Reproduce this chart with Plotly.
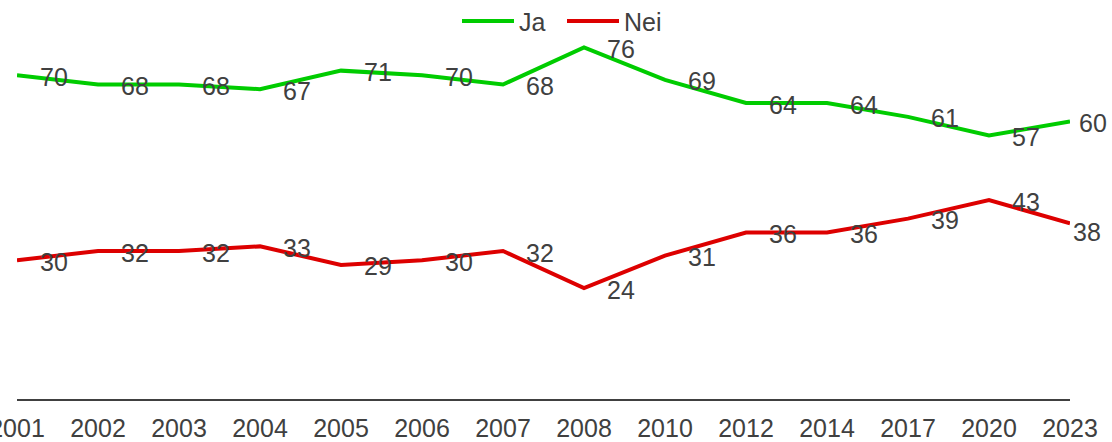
import plotly.graph_objects as go

years = ["2001", "2002", "2003", "2004", "2005", "2006", "2007", "2008",
         "2010", "2012", "2014", "2017", "2020", "2023"]
ja = [70, 68, 68, 67, 71, 70, 68, 76, 69, 64, 64, 61, 57, 60]
nei = [30, 32, 32, 33, 29, 30, 32, 24, 31, 36, 36, 39, 43, 38]
series_names = ["Ja", "Nei"]

GREEN = "#00cc00"
RED = "#dd0000"
TXT = "#404040"
FONT = "Liberation Sans, Arial, sans-serif"
FS = 25

W, H = 1112, 442
ML, MR, MT, MB = 17, 42, 29, 43
PW, PH = W - ML - MR, H - MT - MB


def px_x(px):
    return (px - ML) / PW


def px_y(py):
    return (H - MB - py) / PH


pos = list(range(len(years)))

fig = go.Figure()
fig.add_trace(go.Scatter(x=pos, y=ja, mode="lines", name=series_names[0],
                         line=dict(color=GREEN, width=4), showlegend=False))
fig.add_trace(go.Scatter(x=pos, y=nei, mode="lines", name=series_names[1],
                         line=dict(color=RED, width=4), showlegend=False))

annotations = []
for vals, last_dx, last_dy in ((ja, 23, -1), (nei, 17, -9)):
    for i, v in enumerate(vals):
        last = i == len(vals) - 1
        annotations.append(dict(
            x=pos[i], y=v, xref="x", yref="y", text=str(v), showarrow=False,
            xanchor="center", yanchor="middle",
            xshift=last_dx if last else 37, yshift=last_dy if last else -1.5,
            font=dict(family=FONT, size=FS, color=TXT)))

# manual legend
shapes = []
for name, col, lx0, lx1, tx in ((series_names[0], GREEN, 462, 514, 517),
                                (series_names[1], RED, 567, 619, 622)):
    shapes.append(dict(type="line", xref="paper", yref="paper",
                       x0=px_x(lx0), x1=px_x(lx1), y0=px_y(21), y1=px_y(21),
                       line=dict(color=col, width=4)))
    annotations.append(dict(x=px_x(tx), y=px_y(22), xref="paper", yref="paper",
                            text=name, showarrow=False, xanchor="left",
                            yanchor="middle",
                            font=dict(family=FONT, size=FS, color=TXT)))

fig.update_layout(
    width=W, height=H,
    margin=dict(l=ML, r=MR, t=MT, b=MB, autoexpand=False),
    paper_bgcolor="white", plot_bgcolor="white",
    font=dict(family=FONT, size=FS, color=TXT),
    showlegend=False,
    annotations=annotations, shapes=shapes,
    xaxis=dict(range=[0, len(years) - 1], tickmode="array", tickvals=pos,
               ticktext=years, showgrid=False, zeroline=False,
               showline=True, linecolor=TXT, linewidth=1.5,
               ticks="outside", ticklen=6, tickcolor="rgba(0,0,0,0)",
               automargin=False, ticklabeloverflow="allow",
               tickfont=dict(family=FONT, size=FS, color=TXT)),
    yaxis=dict(range=[0, 80], visible=False, showgrid=False, zeroline=False,
               automargin=False),
)

fig.write_html("out.html", config={"displayModeBar": False},
               post_script="document.body.style.margin='0';document.body.style.overflow='hidden';")
